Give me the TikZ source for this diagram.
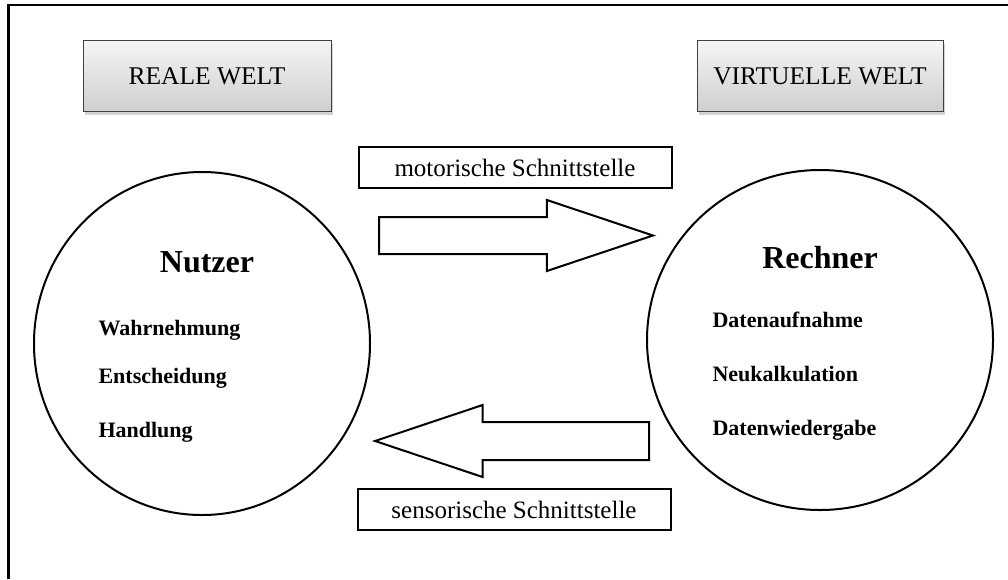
\documentclass[tikz,border=0pt]{standalone}
\usepackage{fontspec}
\setmainfont{Liberation Serif}
\usetikzlibrary{shapes.geometric,shapes.arrows,shadows}

\tikzset{
  world-box/.style={draw=black!75, line width=1pt, top color=gray!8, bottom color=gray!38,
    minimum height=71pt, inner sep=0pt,
    drop shadow={shadow xshift=2pt, shadow yshift=-3pt, opacity=0.35},
    font=\fontsize{25.5}{28}\selectfont},
  port-box/.style={draw, line width=2pt, minimum width=313pt, minimum height=41pt,
    inner sep=0pt, font=\fontsize{25}{28}\selectfont},
  party/.style={draw, ellipse, line width=2pt, inner sep=0pt},
  party-title/.style={anchor=base, font=\fontsize{32}{36}\selectfont\bfseries},
  party-task/.style={anchor=base west, font=\fontsize{22}{26}\selectfont\bfseries},
  block-arrow/.style={draw, single arrow, line width=2pt, inner sep=0pt, anchor=tail,
    minimum height=274pt, minimum width=70pt,
    single arrow head extend=17pt, single arrow tip angle=37}
}

\begin{document}
\begin{tikzpicture}[x=1pt,y=-1pt]
\useasboundingbox (0,0) rectangle (1008,579);

% frame
\draw [line width=2.5pt] (8.5,579) -- (8.5,5) -- (1008,5);

\node [world-box, minimum width=248pt] (real-world) at (207,76) {REALE WELT};
\node [world-box, minimum width=246pt] (virtual-world) at (820,76) {VIRTUELLE WELT};

\node [party, minimum width=336pt, minimum height=343pt] (user) at (202,343.5) {};
\node [party-title] (user-title) at (207,272) {Nutzer};
\node [party-task] (user-t1) at (95,335) {Wahrnehmung};
\node [party-task] (user-t2) at (95,383) {Entscheidung};
\node [party-task] (user-t3) at (95,437) {Handlung};

\node [party, minimum width=346pt, minimum height=340pt] (pc) at (820,340) {};
\node [party-title] (pc-title) at (820,268) {Rechner};
\node [party-task] (pc-t1) at (709,327) {Datenaufnahme};
\node [party-task] (pc-t2) at (709,381) {Neukalkulation};
\node [party-task] (pc-t3) at (709,435) {Datenwiedergabe};

\node [port-box] (motor) at (515,167.5) {motorische Schnittstelle};
\node [block-arrow] (motor-arrow) at (378,235.5) {\rule{0pt}{35pt}};

\node [block-arrow, shape border rotate=180] (sensor-arrow) at (650,441) {\rule{0pt}{36pt}};
\node [port-box] (sensor) at (514,509.5) {sensorische Schnittstelle};

\end{tikzpicture}
\end{document}
